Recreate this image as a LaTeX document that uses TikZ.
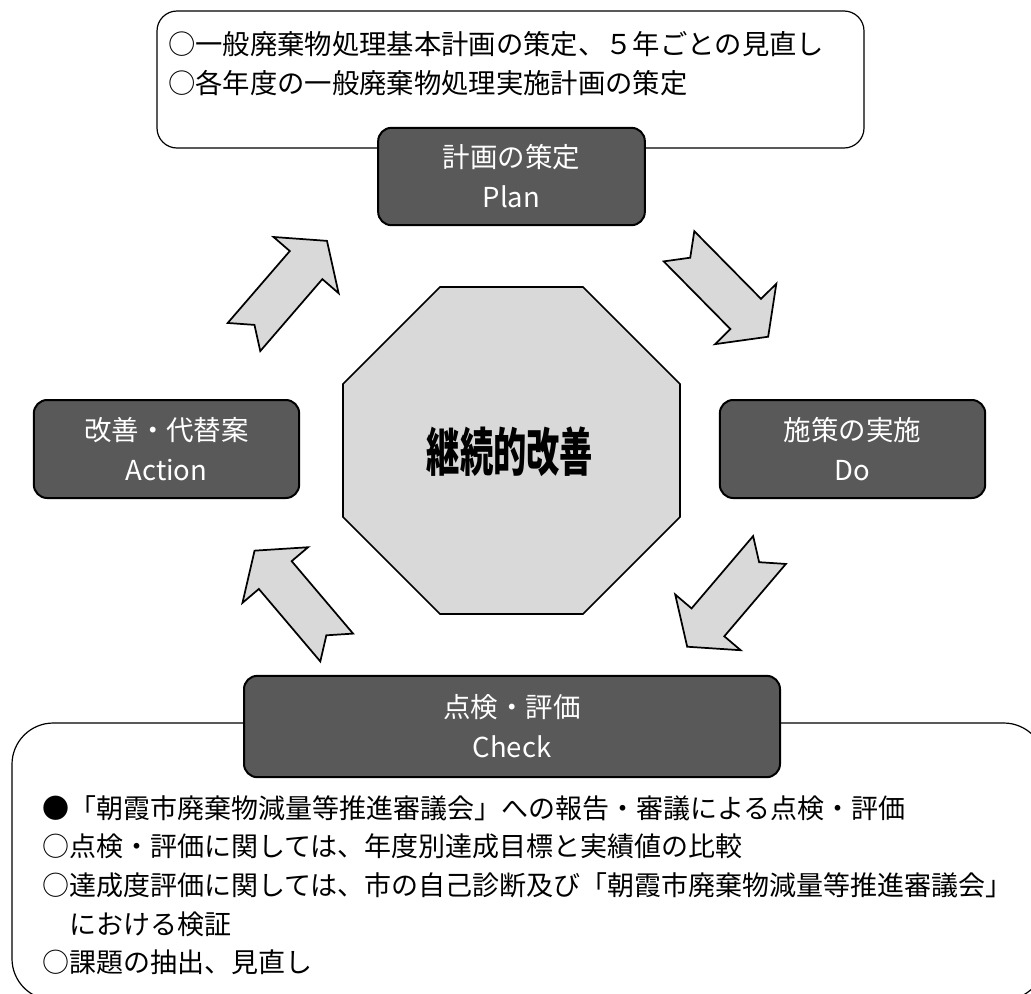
\documentclass[tikz,border=0pt]{standalone}
\usepackage{fontspec}
\setmainfont{Noto Sans CJK JP}
\usetikzlibrary{positioning}
\definecolor{stage}{HTML}{595959}
\definecolor{pale}{HTML}{D9D9D9}

\tikzset{
  notebox/.style={draw,line width=0.9pt,rounded corners=15pt},
  stagebox/.style={draw,line width=1.5pt,fill=stage,text=white,rounded corners=10pt,
    align=center,minimum width=199pt,minimum height=73.5pt,
    font=\fontsize{20.6pt}{30pt}\selectfont},
  blockarrow/.style={draw,line width=1.3pt,fill=pale,line join=miter},
  hub/.style={draw,line width=1.3pt,fill=pale},
  notetext/.style={align=left,inner sep=0pt,anchor=north west,
    font=\fontsize{20.25pt}{29pt}\selectfont}
}

% notched block arrow: tail centre (x,y), direction
\newcommand{\cyclearrow}[3]{%
  \draw[blockarrow,shift={(#1,#2)},rotate=#3]
    (0,21.5) -- (95,21.5) -- (95,43) -- (127,0) -- (95,-43)
    -- (95,-21.5) -- (0,-21.5) -- (16,0) -- cycle;}

\begin{document}
\begin{tikzpicture}[x=0.75pt,y=-0.75pt]
  \useasboundingbox (0,0) rectangle (1031,993);
  \clip (0,0) rectangle (1031,993);

  % notes behind the stages
  \draw[notebox] (157,11) rectangle (864,148);
  \node[notetext,font=\fontsize{20.5pt}{29pt}\selectfont] (plannote) at (168,31)
    {○一般廃棄物処理基本計画の策定、５年ごとの見直し\\○各年度の一般廃棄物処理実施計画の策定};
  \draw[notebox,rounded corners=31pt] (12,723) rectangle (1045,1000);
  \node[notetext] (checknote) at (42,795)
    {●「朝霞市廃棄物減量等推進審議会」への報告・審議による点検・評価\\
     ○点検・評価に関しては、年度別達成目標と実績値の比較\\
     ○達成度評価に関しては、市の自己診断及び「朝霞市廃棄物減量等推進審議会」\\
     \hspace*{1em}における検証\\
     ○課題の抽出、見直し};

  % the four stages
  \node[stagebox,minimum width=200pt,minimum height=73pt] (plan) at (511.5,176.5) {計画の策定\\Plan};
  \node[stagebox] (action) at (166.5,449) {改善・代替案\\Action};
  \node[stagebox] (do) at (852.5,449) {施策の実施\\Do};
  \node[stagebox,minimum width=402pt,minimum height=76pt] (check) at (512,726.5) {点検・評価\\Check};

  % centre
  \draw[hub] (343,384) -- (440,287) -- (583,287) -- (680,384)
    -- (680,517) -- (583,614) -- (440,614) -- (343,517) -- cycle;
  \node (core) at (510,452)
    {\scalebox{0.64}[1]{\fontsize{39pt}{39pt}\selectfont\bfseries 継続的改善}};

  % cycle arrows
  \cyclearrow{244}{337}{49.2}
  \cyclearrow{679}{246.3}{-45.4}
  \cyclearrow{769.5}{550}{229.6}
  \cyclearrow{336.7}{647.5}{130.3}
\end{tikzpicture}
\end{document}
